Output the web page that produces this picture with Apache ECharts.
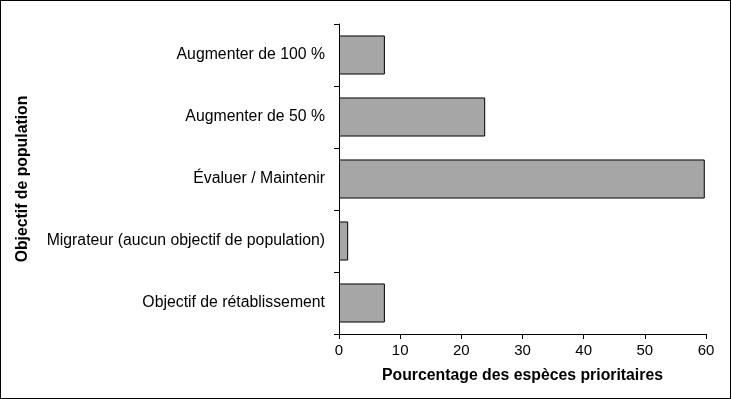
<!DOCTYPE html>
<html><head><meta charset="utf-8">
<script src="https://cdn.jsdelivr.net/npm/echarts@6/dist/echarts.min.js"></script>
<style>html,body{margin:0;padding:0;background:#fff}#c{width:731px;height:399px;box-sizing:border-box;border:1px solid #000}</style>
</head><body><div id="c"></div>
<script>
const categories = ["Objectif de rétablissement","Migrateur (aucun objectif de population)","Évaluer / Maintenir","Augmenter de 50 %","Augmenter de 100 %"];
const values = [7.5, 1.5, 59.8, 23.9, 7.5];
const xTicks = [0, 10, 20, 30, 40, 50, 60];
const chart = echarts.init(document.getElementById('c'), null, {renderer:'canvas'});
const font = '"Liberation Sans", Arial, sans-serif';
chart.setOption({
  animation:false,
  grid:{left:338, right:24, top:23, bottom:64, containLabel:false},
  xAxis:{type:'value', min:xTicks[0], max:xTicks[xTicks.length-1], interval:10,
    axisLine:{show:true, lineStyle:{color:'#000', width:1}},
    axisTick:{show:true, length:5, lineStyle:{color:'#000'}},
    splitLine:{show:false},
    axisLabel:{color:'#000', fontFamily:font, fontSize:15, margin:9},
    name:'Pourcentage des espèces prioritaires', nameLocation:'middle', nameGap:34,
    nameTextStyle:{color:'#000', fontFamily:font, fontSize:15.8, fontWeight:'bold'}},
  yAxis:{type:'category', data:categories,
    axisLine:{show:true, lineStyle:{color:'#000', width:1}},
    axisTick:{show:true, length:5, alignWithLabel:false, lineStyle:{color:'#000'}},
    axisLabel:{color:'#000', fontFamily:font, fontSize:15.8, margin:14},
    name:'Objectif de population', nameLocation:'middle', nameGap:308, nameRotate:90,
    nameTextStyle:{color:'#000', fontFamily:font, fontSize:15.8, fontWeight:'bold'}},
  series:[{type:'bar', data:values, barCategoryGap:'37%',
    itemStyle:{color:'#a6a6a6', borderColor:'#000', borderWidth:1}}]
});
</script></body></html>
